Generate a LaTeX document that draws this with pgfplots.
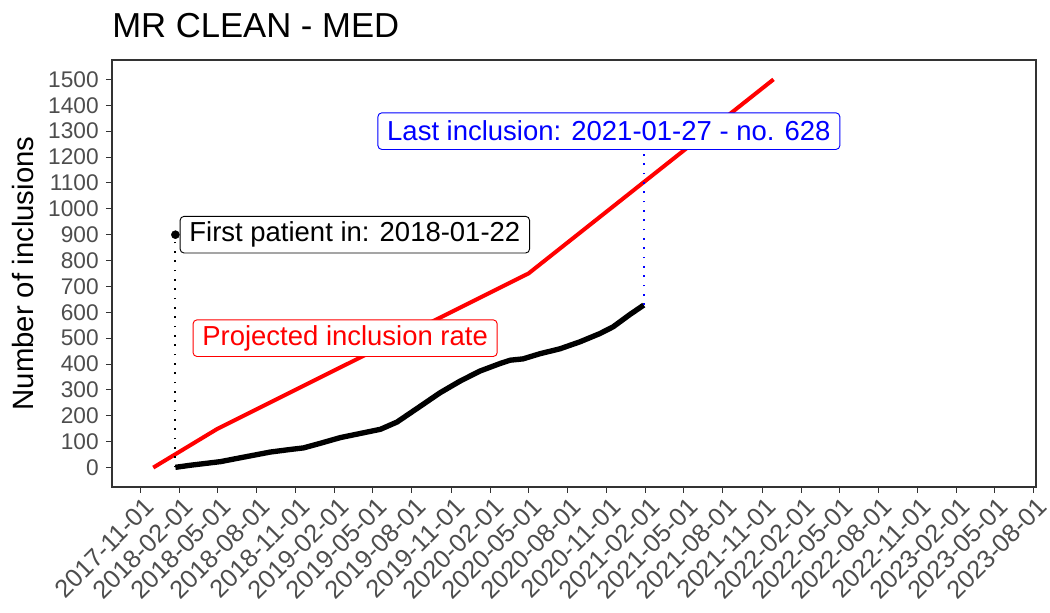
\documentclass[border=0pt]{standalone}
\usepackage{fontspec}
\setmainfont{Liberation Sans}
\usepackage{pgfplots}
\pgfplotsset{compat=1.18}
\definecolor{tickgray}{HTML}{4D4D4D}
\definecolor{framegray}{HTML}{333333}
\begin{document}
\begin{tikzpicture}
\useasboundingbox (-84pt,-94.5pt) rectangle (703.5pt,365.25pt);
\begin{axis}[
  at={(0pt,0pt)}, anchor=south west,
  scale only axis, width=693pt, height=320.25pt,
  xmin=-67, xmax=2105, ymin=-75, ymax=1575,
  axis line style={framegray, line width=0.8pt},
  xtick={0,92,181,273,365,457,546,638,730,822,912,1004,1096,1188,1277,1369,1461,1553,1642,1734,1826,1918,2007,2099},
  xticklabels={2017-11-01,2018-02-01,2018-05-01,2018-08-01,2018-11-01,2019-02-01,2019-05-01,2019-08-01,2019-11-01,2020-02-01,2020-05-01,2020-08-01,2020-11-01,2021-02-01,2021-05-01,2021-08-01,2021-11-01,2022-02-01,2022-05-01,2022-08-01,2022-11-01,2023-02-01,2023-05-01,2023-08-01},
  ytick={0,100,...,1500},
  xtick pos=bottom, ytick pos=left,
  tick align=outside,
  major tick length=4.5pt,
  tick style={framegray, line width=0.8pt},
  ticklabel style={font=\fontsize{17}{19}\selectfont, text=tickgray},
  xticklabel style={font=\fontsize{19}{21}\selectfont, rotate=45, anchor=north east, inner sep=0pt, yshift=-3pt},
  yticklabel style={/pgf/number format/set thousands separator={}, xshift=-2pt},
  /pgf/number format/assume math mode=true,
  ylabel={Number of inclusions},
  ylabel style={font=\fontsize{22}{26}\selectfont, at={(axis description cs:-0.0963,0.5)}, anchor=center},
]
\addplot[red, line width=3pt] coordinates {(30,0) (181,150) (912,750) (1488,1500)};
\addplot[black, line width=4pt] coordinates {
(82,1) (117,9) (188,23) (235,38) (305,60) (352,70) (383,76) (423,94) (470,116) (517,132) (564,148) (603,176) (655,234) (704,289) (751,334) (798,373) (845,402) (869,415) (899,420) (939,440) (986,459) (1033,486) (1080,518) (1111,544) (1150,591) (1183,628)};
\addplot[black, line width=1.4pt, dash pattern=on 1.3pt off 5.7pt] coordinates {(82,1) (82,900)};
\addplot[blue, line width=1.4pt, dash pattern=on 1.3pt off 5.7pt] coordinates {(1183,628) (1183,1300)};
\addplot[black, only marks, mark=*, mark size=3pt] coordinates {(82,900)};
\node[draw=black, fill=white, rounded corners=3pt, line width=0.7pt, anchor=west, inner xsep=7pt, minimum height=27.5pt, font=\fontsize{20.6}{24}\selectfont] at (axis cs:92,900) {First patient in: 2018-01-22};
\node[draw=blue, text=blue, fill=white, rounded corners=3pt, line width=0.7pt, anchor=center, inner xsep=7pt, minimum height=27.5pt, font=\fontsize{20.6}{24}\selectfont] at (axis cs:1101,1300) {Last inclusion: 2021-01-27 - no. 628};
\node[draw=red, text=red, fill=white, rounded corners=3pt, line width=0.7pt, anchor=center, inner xsep=7pt, minimum height=27.5pt, font=\fontsize{20.6}{24}\selectfont] at (axis cs:481,500) {Projected inclusion rate};
\end{axis}
\node[anchor=base west, font=\fontsize{26}{30}\selectfont, inner sep=0pt] at (0pt,336.75pt) {MR CLEAN - MED};
\end{tikzpicture}
\end{document}
